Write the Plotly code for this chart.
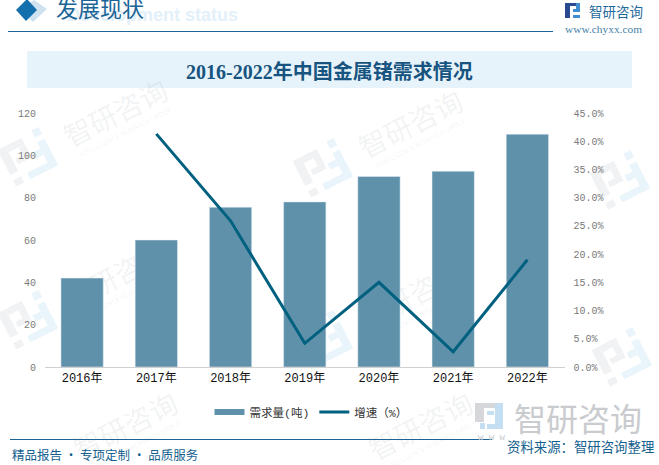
import math
import plotly.graph_objects as go

W, H = 659, 465
years = ["2016年", "2017年", "2018年", "2019年", "2020年", "2021年", "2022年"]
demand = [42, 60, 75.5, 78, 90, 92.5, 110]
growth = [None, 41.3, 25.9, 4.2, 15.0, 2.7, 19.0]
left_ticks = [0, 20, 40, 60, 80, 100, 120]
right_ticks = [0, 5, 10, 15, 20, 25, 30, 35, 40, 45]
right_labels = ["0.0%", "5.0%", "10.0%", "15.0%", "20.0%", "25.0%", "30.0%", "35.0%", "40.0%", "45.0%"]

TITLE = "2016-2022年中国金属锗需求情况"
HEAD = "发展现状"
HEAD_EN = "Development status"
BLUE = "#1a6496"
SANS = "Noto Sans CJK SC"
SERIF = "Liberation Serif, Noto Sans CJK SC"
MONO = "Liberation Mono, Noto Sans CJK SC"

def px(x): return x / W
def py(y): return 1 - y / H

fig = go.Figure()
fig.add_trace(go.Bar(x=years, y=demand, name="需求量(吨)", marker_color="#5f92aa", width=0.57,
                     yaxis="y", showlegend=False))
fig.add_trace(go.Scatter(x=[None], y=[None], name="需求量(吨)", mode="lines",
                         line=dict(color="#5f92aa", width=6), yaxis="y"))
fig.add_trace(go.Scatter(x=years, y=growth, name="增速（%）", mode="lines",
                         line=dict(color="#00607f", width=3), yaxis="y2"))

shapes = []
def rect(x0, y0, x1, y1, color, layer="below"):
    shapes.append(dict(type="rect", xref="paper", yref="paper", x0=px(x0), x1=px(x1), y0=py(y0), y1=py(y1),
                       fillcolor=color, line_width=0, layer=layer))
def poly(pts, color, layer="below"):
    d = "M" + " L".join(f"{px(a):.5f},{py(b):.5f}" for a, b in pts) + " Z"
    shapes.append(dict(type="path", xref="paper", yref="paper", path=d, fillcolor=color, line_width=0, layer=layer))

def wm_logo(cx, cy, gray="#f1f2f4", blue="#e9f4fb", ang=-27):
    a = math.radians(ang)
    def tr(x, y):
        return (cx + x * math.cos(a) - y * math.sin(a), cy + x * math.sin(a) + y * math.cos(a))
    def r(x0, y0, x1, y1, c):
        poly([tr(x0, y0), tr(x1, y0), tr(x1, y1), tr(x0, y1)], c)
    # left bracket (grey), right bracket (blue)
    r(-24, -20, -15, 8, gray)
    r(-15, -20, 3, -13, gray)
    r(-4, -13, 3, -4, gray)
    r(-12, -4, 3, 2, gray)
    r(-24, 14, -15, 21, gray)
    r(15, -22, 23, -14, blue)
    r(15, -9, 23, 21, blue)
    r(-8, 14, 23, 21, blue)
    r(6, -2, 15, 5, blue)

for cx, cy in [(28, 157), (323, 168), (620, 180), (28, 320), (323, 340), (622, 357)]:
    wm_logo(cx, cy)

# title band, rules
rect(27, 51, 632, 88, "#e6f3fb")
rect(8, 31, 553, 32, BLUE)
rect(10, 439, 492, 440, BLUE)
# header diamonds
poly([(34, 0), (47, 9), (33, 22), (20, 10)], "#cfe2f0")
poly([(27, -1), (37, 10), (26, 21), (16, 10)], "#1370ad")
# top-right logo
for a in [(565, 3, 570, 18, "#2a4a8f"), (570, 3, 580, 6, "#2a4a8f"), (573, 9, 580, 12, "#3f8fd0"),
          (573, 15, 580, 18, "#3f8fd0"), (576, 3, 580, 12, "#3f8fd0")]:
    rect(*a, layer="above")
# big logo bottom right
rect(475, 403, 484, 422, "#d5d7da")
rect(484, 403, 495, 408, "#d5d7da")
rect(480, 423, 485, 429, "#c4def2")
rect(487, 411, 494, 415, "#c4def2")
rect(495, 403, 503, 429, "#c4def2")
rect(487, 424, 495, 429, "#c4def2")

ann = []
def text(x, y, s, size, color, family=SANS, anchor="left", angle=0, bold=False):
    ann.append(dict(xref="paper", yref="paper", x=px(x), y=py(y), text=f"<b>{s}</b>" if bold else s,
                    showarrow=False, xanchor=anchor, yanchor="middle", textangle=angle,
                    font=dict(size=size, color=color, family=family)))

WM = "rgba(120,130,140,0.10)"
for x, y in [(115, 112), (410, 123), (115, 275), (410, 295), (125, 425), (420, 425)]:
    text(x, y, "智研咨询", 28, WM, angle=-27, anchor="center")
    text(x + 10, y + 20, "INTELLIGENCE RESEARCH GROUP", 6.5, WM, angle=-27, anchor="center")
N_WM = len(ann)

text(65, 15, HEAD_EN, 18, "#e3f0fa", family="Liberation Sans", bold=True)
text(54, 10, HEAD, 22, "#1a6496", family=SERIF)
text(329, 71, TITLE, 20, "#17547f", family=SERIF, anchor="center", bold=True)
text(587, 11, "智研咨询", 13.5, "#1f6a9a")
text(563, 29, "www.chyxx.com", 11.4, "#3f7fa6", family="Liberation Serif")
text(512, 417, "智研咨询", 32, "#c9cbce")
text(476, 438, "w w w", 9, "#c9cbce", family="Liberation Mono")
text(656, 446, "资料来源：智研咨询整理", 13.4, "#155f8f", anchor="right")
text(10, 454, "精品报告 · 专项定制 · 品质服务", 12.5, "#155f8f")

tick_font = dict(size=10, color="#7a7a7a", family=MONO)
fig.update_layout(
    width=W, height=H, margin=dict(l=0, r=0, t=0, b=0, autoexpand=False),
    paper_bgcolor="white", plot_bgcolor="rgba(0,0,0,0)", showlegend=True,
    font=dict(family=SANS),
    shapes=shapes, annotations=ann,
    xaxis=dict(domain=[px(45), px(564.5)], anchor="y", showgrid=False, zeroline=False, showline=True,
               linecolor="#d0d0d0", linewidth=1, ticks="", tickfont=dict(size=12, color="#111111", family=MONO)),
    yaxis=dict(domain=[py(367), py(113)], range=[0, 120], tickvals=left_ticks, showgrid=False, zeroline=False,
               tickfont=tick_font, ticks="", ticklabelstandoff=8),
    yaxis2=dict(domain=[py(367), py(113)], range=[0, 45], overlaying="y", side="right", tickvals=right_ticks,
                ticktext=right_labels, showgrid=False, zeroline=False, tickfont=tick_font, ticks="", ticklabelstandoff=8),
    legend=dict(orientation="h", x=px(311), xanchor="center", y=py(412), yanchor="middle", itemwidth=30,
                font=dict(size=11.5, color="#333333", family=MONO), bgcolor="rgba(0,0,0,0)"),
)
post = f"""document.body.style.margin='0';
var gd=document.querySelector('.js-plotly-plot');
var below=gd.querySelector('.layer-below');
gd.querySelectorAll('.annotation').forEach(function(a){{
  if(+a.getAttribute('data-index')<{N_WM}) below.appendChild(a);
}});"""
fig.write_html("out.html", post_script=post, config=dict(displayModeBar=False))
